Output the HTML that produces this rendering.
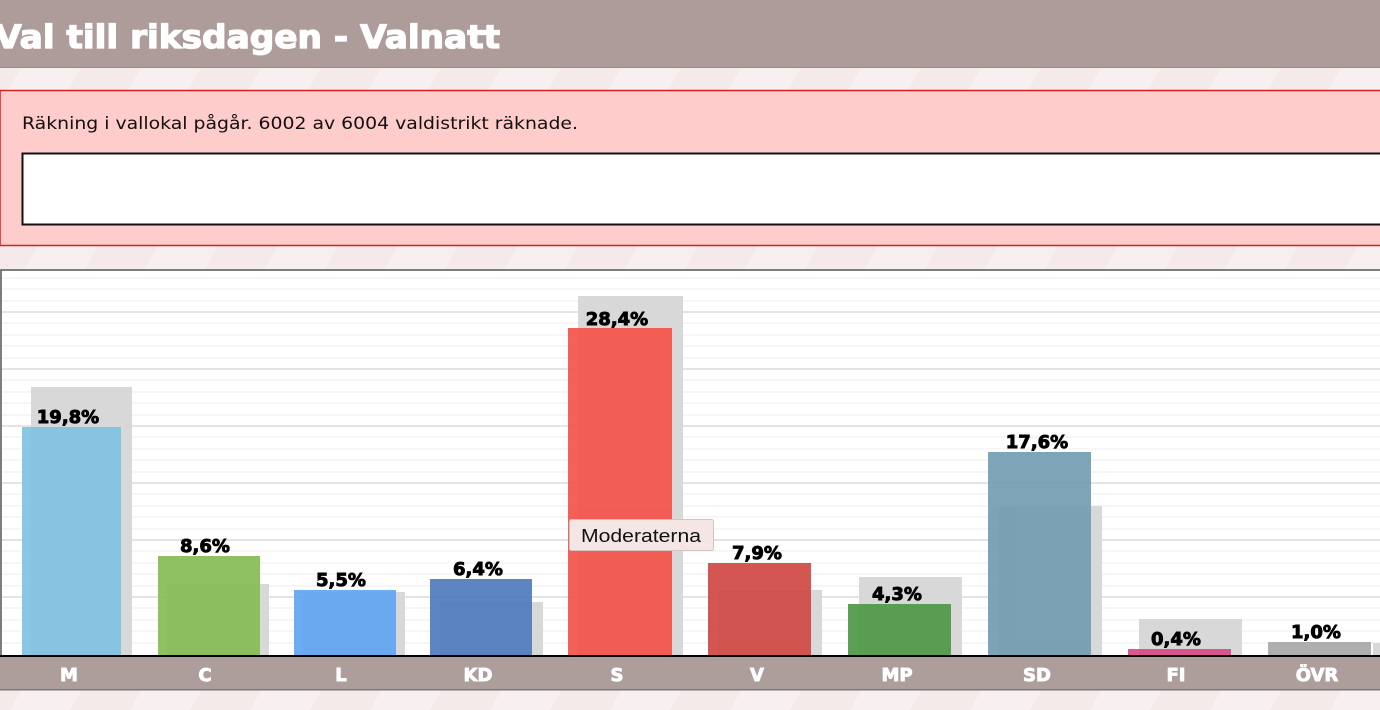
<!DOCTYPE html>
<html><head><meta charset="utf-8"><style>
html,body{margin:0;padding:0;width:1380px;height:710px;overflow:hidden;background:#f7eeee}
svg{display:block}
</style></head><body>
<svg width="1380" height="710" xmlns="http://www.w3.org/2000/svg" font-family="'DejaVu Sans','Liberation Sans',sans-serif">
<defs>
<pattern id="st" width="120" height="120" patternUnits="userSpaceOnUse" patternTransform="skewX(-30)">
<rect width="120" height="120" fill="#f8f0f0"/><rect width="60" height="120" fill="#f4eaea"/>
</pattern>
</defs>
<rect width="1380" height="710" fill="url(#st)"/>
<rect x="0" y="0" width="1380" height="68" fill="#ae9c9b"/>
<rect x="0" y="67" width="1380" height="1" fill="#9b8b8a"/>
<text x="-5" y="48" font-size="32" font-weight="bold" fill="#fff" stroke="#fff" stroke-width="1.3" textLength="505" lengthAdjust="spacingAndGlyphs">Val till riksdagen - Valnatt</text>
<rect x="0" y="90.5" width="1390" height="155" fill="#ffcccc" stroke="#d42020" stroke-width="1.5"/>
<text x="22" y="129" font-size="17" fill="#111" textLength="556" lengthAdjust="spacingAndGlyphs">Räkning i vallokal pågår. 6002 av 6004 valdistrikt räknade.</text>
<rect x="22.5" y="153.5" width="1370" height="71" fill="#fff" stroke="#111" stroke-width="2"/>
<rect x="1" y="270" width="1385" height="386" fill="#fff" stroke="#555" stroke-width="1.5"/>
<g stroke="#ececec" stroke-width="1">
<line x1="2" x2="1380" y1="278" y2="278"/><line x1="2" x2="1380" y1="289" y2="289"/><line x1="2" x2="1380" y1="301" y2="301"/>
<line x1="2" x2="1380" y1="323" y2="323"/><line x1="2" x2="1380" y1="335" y2="335"/><line x1="2" x2="1380" y1="346" y2="346"/><line x1="2" x2="1380" y1="358" y2="358"/>
<line x1="2" x2="1380" y1="380" y2="380"/><line x1="2" x2="1380" y1="392" y2="392"/><line x1="2" x2="1380" y1="403" y2="403"/><line x1="2" x2="1380" y1="415" y2="415"/>
<line x1="2" x2="1380" y1="437" y2="437"/><line x1="2" x2="1380" y1="449" y2="449"/><line x1="2" x2="1380" y1="460" y2="460"/><line x1="2" x2="1380" y1="472" y2="472"/>
<line x1="2" x2="1380" y1="494" y2="494"/><line x1="2" x2="1380" y1="506" y2="506"/><line x1="2" x2="1380" y1="517" y2="517"/><line x1="2" x2="1380" y1="529" y2="529"/>
<line x1="2" x2="1380" y1="551" y2="551"/><line x1="2" x2="1380" y1="563" y2="563"/><line x1="2" x2="1380" y1="574" y2="574"/><line x1="2" x2="1380" y1="586" y2="586"/>
<line x1="2" x2="1380" y1="608" y2="608"/><line x1="2" x2="1380" y1="620" y2="620"/><line x1="2" x2="1380" y1="631" y2="631"/><line x1="2" x2="1380" y1="643" y2="643"/>
</g>
<g stroke="#dcdcdc" stroke-width="1.5">
<line x1="2" x2="1380" y1="312" y2="312"/><line x1="2" x2="1380" y1="369" y2="369"/><line x1="2" x2="1380" y1="426" y2="426"/>
<line x1="2" x2="1380" y1="483" y2="483"/><line x1="2" x2="1380" y1="540" y2="540"/><line x1="2" x2="1380" y1="597" y2="597"/>
</g>
<g fill="#d8d8d8">
<rect x="31" y="387" width="101" height="268"/>
<rect x="167" y="584" width="102" height="71"/>
<rect x="303" y="592" width="102" height="63"/>
<rect x="440" y="602" width="103" height="53"/>
<rect x="578" y="296" width="105" height="359"/>
<rect x="719" y="590" width="103" height="65"/>
<rect x="859" y="577" width="103" height="78"/>
<rect x="999" y="506" width="103" height="149"/>
<rect x="1139" y="619" width="103" height="36"/>
<rect x="1373" y="643" width="10" height="12"/>
</g>
<g opacity="0.92">
<rect x="22" y="427" width="99" height="228" fill="#80c2e3"/>
<rect x="158" y="556" width="102" height="99" fill="#86bb55"/>
<rect x="294" y="590" width="102" height="65" fill="#61a6f3"/>
<rect x="430" y="579" width="102" height="76" fill="#4f7bbd"/>
<rect x="568" y="328" width="104" height="327" fill="#f4524a"/>
<rect x="708" y="563" width="103" height="92" fill="#d04844"/>
<rect x="848" y="604" width="103" height="51" fill="#4e9846"/>
<rect x="988" y="452" width="103" height="203" fill="#739cb2"/>
<rect x="1128" y="649" width="103" height="6" fill="#d9488a"/>
<rect x="1268" y="642" width="103" height="13" fill="#a8a8a8"/>
</g>
<g font-size="18" font-weight="bold" fill="#000" stroke="#000" stroke-width="0.9" text-anchor="middle">
<text x="68" y="423">19,8%</text>
<text x="205" y="552">8,6%</text>
<text x="341" y="586">5,5%</text>
<text x="478" y="575">6,4%</text>
<text x="617" y="325">28,4%</text>
<text x="757" y="559">7,9%</text>
<text x="897" y="600">4,3%</text>
<text x="1037" y="448">17,6%</text>
<text x="1176" y="645">0,4%</text>
<text x="1316" y="638">1,0%</text>
</g>
<rect x="0" y="655" width="1380" height="2.5" fill="#000"/>
<rect x="0" y="657" width="1380" height="33" fill="#ad9d9b"/>
<rect x="0" y="689" width="1380" height="1.5" fill="#777"/>
<g font-size="18" font-weight="bold" fill="#fff" stroke="#fff" stroke-width="0.9" text-anchor="middle">
<text x="69" y="681">M</text><text x="205" y="681">C</text><text x="341" y="681">L</text>
<text x="478" y="681">KD</text><text x="617" y="681">S</text><text x="757" y="681">V</text>
<text x="897" y="681">MP</text><text x="1037" y="681">SD</text><text x="1176" y="681">FI</text>
<text x="1317" y="681">ÖVR</text>
</g>
<rect x="569.5" y="519.5" width="144" height="31" rx="2" fill="#f3e6e4" stroke="#cfc4c2"/>
<text x="581" y="542" font-size="18" fill="#111" font-family="'Liberation Sans',sans-serif" textLength="120" lengthAdjust="spacingAndGlyphs">Moderaterna</text>
</svg>
</body></html>
